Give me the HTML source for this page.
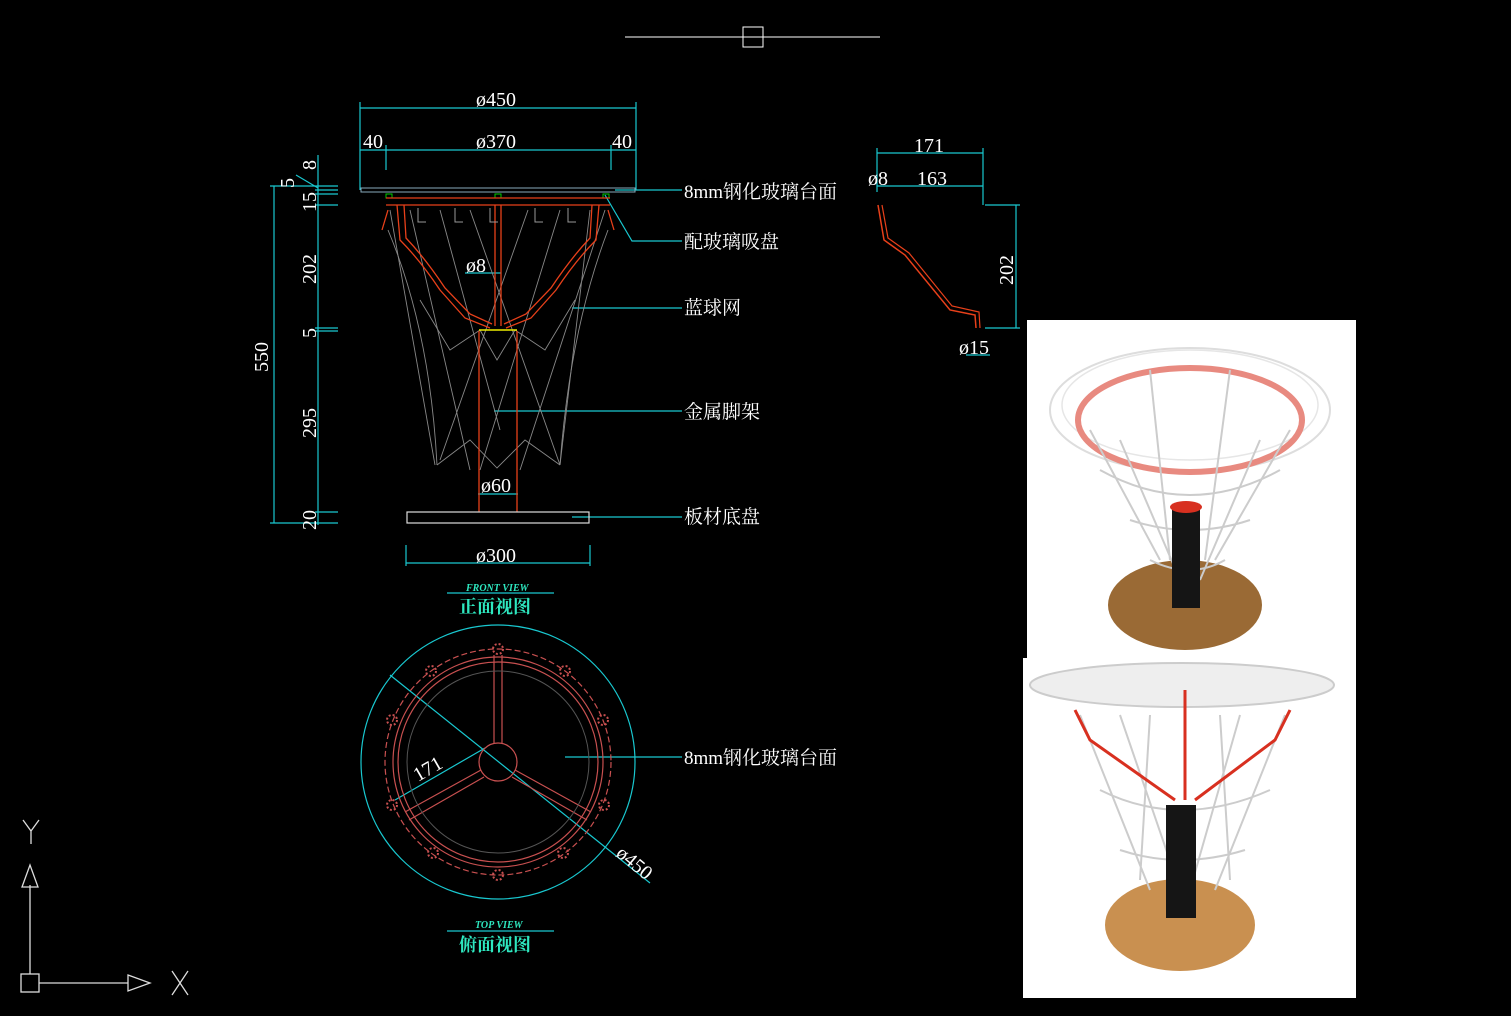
<!DOCTYPE html>
<html><head><meta charset="utf-8"><style>
html,body{margin:0;padding:0;background:#000;}
svg{display:block}
text{font-family:"Liberation Serif","Noto Serif CJK SC",serif;fill:#fff}
.c{font-family:"Liberation Sans","Noto Sans CJK SC",sans-serif}
</style></head><body>
<svg width="1511" height="1016" viewBox="0 0 1511 1016" xmlns="http://www.w3.org/2000/svg">
<rect width="1511" height="1016" fill="#000"/>
<line x1="625" y1="37" x2="880" y2="37" stroke="#fff" stroke-width="1"/>
<rect x="743" y="27" width="20" height="20" fill="none" stroke="#fff"/>

<g stroke="#19c8d0" stroke-width="1.2" fill="none">
<line x1="360" y1="108" x2="636" y2="108"/>
<line x1="360" y1="102" x2="360" y2="190"/><line x1="636" y1="102" x2="636" y2="190"/>
<line x1="360" y1="150" x2="636" y2="150"/>
<line x1="386" y1="145" x2="386" y2="170"/><line x1="611" y1="145" x2="611" y2="170"/>
<line x1="274" y1="186" x2="274" y2="523"/>
<line x1="270" y1="186" x2="338" y2="186"/><line x1="270" y1="523" x2="338" y2="523"/>
<line x1="318" y1="155" x2="318" y2="525"/>
<line x1="315" y1="190" x2="338" y2="190"/><line x1="315" y1="194" x2="338" y2="194"/><line x1="315" y1="205" x2="338" y2="205"/>
<line x1="315" y1="328" x2="338" y2="328"/><line x1="315" y1="331" x2="338" y2="331"/>
<line x1="315" y1="512" x2="338" y2="512"/>
<line x1="296" y1="175" x2="318" y2="188"/>
<line x1="615" y1="190" x2="682" y2="190"/>
<polyline points="605,195 632,241 682,241"/>
<line x1="572" y1="308" x2="682" y2="308"/>
<line x1="494" y1="411" x2="682" y2="411"/>
<line x1="572" y1="517" x2="682" y2="517"/>
<line x1="465" y1="273" x2="501" y2="273"/>
<line x1="478" y1="494" x2="518" y2="494"/>
<line x1="406" y1="545" x2="406" y2="566"/><line x1="590" y1="545" x2="590" y2="566"/>
<line x1="406" y1="563" x2="590" y2="563"/>
<line x1="447" y1="593" x2="554" y2="593"/>
<line x1="447" y1="931" x2="554" y2="931"/>
<line x1="877" y1="153" x2="983" y2="153"/>
<line x1="877" y1="148" x2="877" y2="192"/><line x1="983" y1="148" x2="983" y2="205"/>
<line x1="877" y1="186" x2="983" y2="186"/>
<line x1="1016" y1="205" x2="1016" y2="328"/>
<line x1="985" y1="205" x2="1020" y2="205"/><line x1="985" y1="328" x2="1020" y2="328"/>
<line x1="966" y1="355" x2="990" y2="355"/>
<circle cx="498" cy="762" r="137"/>
<line x1="390" y1="675" x2="650" y2="883"/>
<line x1="395" y1="800" x2="485" y2="748"/>
<line x1="565" y1="757" x2="682" y2="757"/>
</g>

<rect x="361" y="188" width="274" height="4" fill="none" stroke="#8ab" stroke-width="1"/>
<g fill="none" stroke="#0c0"><rect x="386" y="194" width="6" height="4"/><rect x="495" y="194" width="6" height="4"/><rect x="603" y="194" width="6" height="4"/></g>
<g stroke="#888" stroke-width="0.9" fill="none">
<path d="M390,210 L435,465 M410,210 L470,470 M440,210 L500,430 M470,210 L560,465 M528,210 L440,460 M560,210 L480,470 M590,210 L560,465 M605,210 L520,470"/>
<path d="M388,230 Q430,330 437,465 M608,230 Q570,330 560,465"/>
<path d="M437,465 L470,440 L497,468 L525,440 L560,465"/>
<path d="M420,300 L450,350 L480,330 L497,360 L515,330 L545,350 L575,300"/>
</g>
<g stroke="#e8401a" stroke-width="1.3" fill="none">
<line x1="386" y1="198" x2="610" y2="198"/>
<line x1="386" y1="205" x2="610" y2="205"/>
<path d="M397,205 L400,240 Q420,260 440,290 L465,318 L490,328"/>
<path d="M404,205 L406,238 Q425,258 445,288 L470,314 L492,324"/>
<path d="M599,205 L596,240 Q576,260 556,290 L531,318 L506,328"/>
<path d="M592,205 L590,238 Q571,258 551,288 L526,314 L504,324"/>
<line x1="495" y1="205" x2="495" y2="326"/><line x1="501" y1="205" x2="501" y2="326"/>
<line x1="479" y1="331" x2="479" y2="512"/><line x1="517" y1="331" x2="517" y2="512"/>
<path d="M382,230 L388,210 M614,230 L608,210"/>
</g>
<line x1="479" y1="330" x2="517" y2="330" stroke="#ee0" stroke-width="1.5"/>
<g fill="none" stroke="#999" stroke-width="1"><path d="M418,208 v14 h8 M455,208 v14 h8 M490,208 v14 h8 M535,208 v14 h8 M568,208 v14 h8"/></g>
<rect x="407" y="512" width="182" height="11" fill="none" stroke="#ddd" stroke-width="1.2"/>

<path d="M878,205 L884,240 L905,255 L950,310 L975,315 L976,328" fill="none" stroke="#e8401a" stroke-width="1.5"/>
<path d="M882,205 L888,238 L909,253 L952,306 L979,312 L980,328" fill="none" stroke="#e8401a" stroke-width="1.2"/>

<g fill="none" stroke="#c85050" stroke-width="1.2">
<circle cx="498" cy="762" r="113" stroke-dasharray="6 3"/>
<circle cx="498" cy="762" r="105"/>
<circle cx="498" cy="762" r="100"/>
<circle cx="498" cy="762" r="19"/>
<path d="M494,743 V655 M502,743 V655"/>
<path d="M481,770 L405,812 M484,777 L409,820"/>
<path d="M515,770 L591,812 M512,777 L587,820"/>
<g stroke-width="2" stroke-dasharray="2 2">
<circle cx="498" cy="649" r="5"/><circle cx="565" cy="671" r="5"/><circle cx="603" cy="720" r="5"/><circle cx="604" cy="805" r="5"/><circle cx="563" cy="853" r="5"/><circle cx="498" cy="875" r="5"/><circle cx="433" cy="853" r="5"/><circle cx="392" cy="805" r="5"/><circle cx="392" cy="720" r="5"/><circle cx="431" cy="671" r="5"/>
</g>
</g>
<circle cx="498" cy="762" r="91" fill="none" stroke="#555"/>

<g font-size="20">
<text x="476" y="106">ø450</text>
<text x="363" y="148">40</text>
<text x="476" y="148">ø370</text>
<text x="612" y="148">40</text>
<text x="466" y="272">ø8</text>
<text x="481" y="492">ø60</text>
<text x="476" y="562">ø300</text>
<text x="914" y="152">171</text>
<text x="868" y="185">ø8</text>
<text x="917" y="185">163</text>
<text x="959" y="354">ø15</text>
<text transform="translate(268,372) rotate(-90)">550</text>
<text transform="translate(316,170) rotate(-90)">8</text>
<text transform="translate(294,188) rotate(-90)">5</text>
<text transform="translate(316,212) rotate(-90)">15</text>
<text transform="translate(316,284) rotate(-90)">202</text>
<text transform="translate(316,338) rotate(-90)">5</text>
<text transform="translate(316,438) rotate(-90)">295</text>
<text transform="translate(316,530) rotate(-90)">20</text>
<text transform="translate(1013,285) rotate(-90)">202</text>
<text transform="translate(418,782) rotate(-30)">171</text>
<text transform="translate(615,855) rotate(40)">ø450</text>
</g>
<g font-size="19" class="c">
<text x="684" y="198">8mm钢化玻璃台面</text>
<text x="684" y="248">配玻璃吸盘</text>
<text x="684" y="314">蓝球网</text>
<text x="684" y="418">金属脚架</text>
<text x="684" y="523">板材底盘</text>
<text x="684" y="764">8mm钢化玻璃台面</text>
</g>
<g class="c">
<text x="466" y="591" font-size="10" font-style="italic" font-weight="bold" style="fill:#2ee8c0">FRONT VIEW</text>
<text x="459" y="613" font-size="18" font-weight="bold" style="fill:#2ee8c0">正面视图</text>
<text x="475" y="928" font-size="10" font-style="italic" font-weight="bold" style="fill:#2ee8c0">TOP VIEW</text>
<text x="459" y="951" font-size="18" font-weight="bold" style="fill:#2ee8c0">俯面视图</text>
</g>

<g stroke="#ddd" fill="none" stroke-width="1.3">
<line x1="30" y1="885" x2="30" y2="974"/>
<polygon points="22,887 30,865 38,887"/>
<rect x="21" y="974" width="18" height="18"/>
<line x1="39" y1="983" x2="128" y2="983"/>
<polygon points="128,975 150,983 128,991"/>
<path d="M23,820 L31,831 L39,820 M31,831 V844"/>
<path d="M172,971 L188,995 M188,971 L172,995"/>
</g>

<rect x="1027" y="320" width="329" height="338" fill="#fff"/>
<rect x="1023" y="658" width="333" height="340" fill="#fff"/>
<ellipse cx="1185" cy="605" rx="77" ry="45" fill="#9a6a35"/>
<g fill="none">
<ellipse cx="1190" cy="410" rx="140" ry="62" stroke="#ddd" stroke-width="2"/>
<ellipse cx="1190" cy="405" rx="128" ry="55" stroke="#e6e6e6" stroke-width="1.5"/>
<ellipse cx="1190" cy="420" rx="112" ry="52" stroke="#e88a80" stroke-width="6"/>
<path d="M1090,430 L1160,560 M1290,430 L1215,560 M1120,440 L1180,580 M1260,440 L1200,580 M1150,370 L1170,560 M1230,370 L1205,560 M1100,470 Q1190,520 1280,470 M1130,520 Q1190,540 1250,520 M1150,560 Q1190,580 1225,560" stroke="#ccc" stroke-width="2"/>
</g>
<rect x="1172" y="505" width="28" height="103" fill="#151515"/>
<ellipse cx="1186" cy="507" rx="16" ry="6" fill="#d83020"/>
<ellipse cx="1180" cy="925" rx="75" ry="46" fill="#c99050"/>
<ellipse cx="1182" cy="685" rx="152" ry="22" fill="#eee" stroke="#ccc" stroke-width="2"/>
<path d="M1080,715 L1150,890 M1285,715 L1215,890 M1120,715 L1180,890 M1240,715 L1190,890 M1100,790 Q1180,830 1270,790 M1120,850 Q1180,870 1245,850 M1150,715 L1140,880 M1220,715 L1230,880" stroke="#ccc" stroke-width="2" fill="none"/>
<path d="M1075,710 L1090,740 L1175,800 M1290,710 L1275,740 L1195,800 M1185,690 V800" stroke="#d83020" stroke-width="3" fill="none"/>
<rect x="1166" y="805" width="30" height="113" fill="#151515"/>
</svg>
</body></html>
